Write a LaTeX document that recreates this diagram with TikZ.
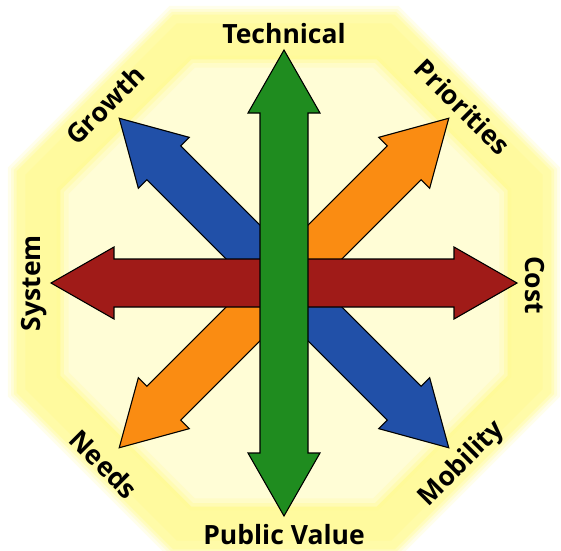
\documentclass[tikz,border=0pt]{standalone}
\usepackage{fontspec}
\setmainfont{Open Sans}
\usepackage{tikz}
\usetikzlibrary{positioning,shapes.geometric}
\definecolor{techgreen}{HTML}{1F8C1F}
\definecolor{costred}{HTML}{A01B18}
\definecolor{mobblue}{HTML}{2150A8}
\definecolor{prioorange}{HTML}{FA8C12}
\tikzset{
bigarrow/.style={draw=black, line width=1.1pt, line join=miter}, % outline of the double arrows
axislabel/.style={font=\bfseries\fontsize{26.5}{26.5}\selectfont, inner sep=0pt}, % the eight words
octa/.style={regular polygon, regular polygon sides=8, inner sep=0pt, draw=none}, % background octagons
}

\begin{document}
\begin{tikzpicture}[x=1pt,y=1pt]
  \useasboundingbox (-284,-267) rectangle (277,283);
  \coordinate (o) at (0,0);

  % yellow background: soft outer edge, then a paler middle
  \foreach \d/\t in {598/8, 591/16, 585/26, 579/34, 560/38}
    \node[octa, fill=yellow!\t, minimum size=\d pt] at (0,1) {};
  \foreach \d/\t in {492/40, 484/30, 476/22, 466/16}
    \node[octa, fill=yellow!\t, minimum size=\d pt] at (0,0) {};

  % the four double arrows, last one on top
  \foreach \ang/\col in {-45/mobblue, 45/prioorange, 0/costred, 90/techgreen}
    \draw[bigarrow, fill=\col, rotate=\ang]
      (-233,0) -- (-170,36) -- (-170,24) -- (170,24) -- (170,36) -- (233,0)
      -- (170,-36) -- (170,-24) -- (-170,-24) -- (-170,-36) -- cycle;

  \node[axislabel] (tech) at (0,249) {Technical};
  \node[axislabel] (pubval) at (0,-252) {Public Value};
  \node[axislabel, rotate=90] (sys) at (-250,0) {System};
  \node[axislabel, rotate=-90] (cost) at (251,-2) {Cost};
  \node[axislabel, rotate=45] (growth) at (-179,178) {Growth};
  \node[axislabel, rotate=-45] (prio) at (179,176) {Priorities};
  \node[axislabel, rotate=-45] (needs) at (-180,-181) {Needs};
  \node[axislabel, rotate=45] (mob) at (178,-181) {Mobility};
\end{tikzpicture}
\end{document}
